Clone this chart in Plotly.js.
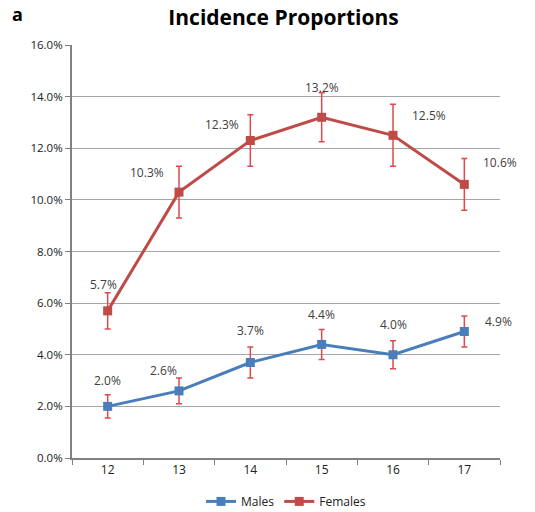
<!DOCTYPE html>
<html><head><meta charset="utf-8">
<script src="https://cdn.plot.ly/plotly-3.0.1.min.js"></script>
<style>html,body{margin:0;padding:0;background:#fff}#chart{width:535px;height:512px}</style>
</head><body><div id="chart"></div>
<script>
const ages = ['12','13','14','15','16','17'];
const males = [2.0, 2.6, 3.7, 4.4, 4.0, 4.9];
const malesErr = [0.45, 0.5, 0.6, 0.58, 0.54, 0.6];
const females = [5.7, 10.3, 12.3, 13.2, 12.5, 10.6];
const femalesErr = [0.7, 1.0, 1.0, 0.95, 1.2, 1.0];
const yTicks = [0, 2, 4, 6, 8, 10, 12, 14, 16];

// label offsets (style only)
const maleLabelShift = [[0,26],[-16,20],[0,32],[0,30],[0,30],[34,10]];
const femaleLabelShift = [[-4,26],[-32,20],[-28,16],[0,30],[36,20],[36,22]];

const blue = '#4a7ebb', red = '#be4b48', errCol = '#e0494e';
const font = 'Open Sans, Lato, sans-serif';

function trace(name, y, err, color) {
  return {
    type: 'scatter', mode: 'lines+markers', name: name, x: ages, y: y,
    line: {color: color, width: 3},
    marker: {symbol: 'square', size: 9, color: color},
    error_y: {type: 'data', array: err, visible: true, color: errCol, thickness: 1.5, width: 3}
  };
}

const annotations = [];
function addLabels(y, shifts) {
  y.forEach((v, i) => annotations.push({
    x: i, y: v, xref: 'x', yref: 'y', text: v.toFixed(1) + '%',
    showarrow: false, xshift: shifts[i][0], yshift: shifts[i][1],
    font: {family: font, size: 12, color: '#404040'}
  }));
}
addLabels(males, maleLabelShift);
addLabels(females, femaleLabelShift);
annotations.push({
  text: '<b>a</b>', xref: 'paper', yref: 'paper', x: -0.145, y: 1.11,
  xanchor: 'left', yanchor: 'top', showarrow: false,
  font: {family: font, size: 18, color: '#000'}
});

const layout = {
  width: 535, height: 512,
  margin: {l: 72, r: 35, t: 45, b: 54, autoexpand: false},
  paper_bgcolor: '#fff', plot_bgcolor: '#fff',
  title: {text: '<b>Incidence Proportions</b>', x: 0.53, xanchor: 'center', y: 0.98, yanchor: 'top',
          font: {family: font, size: 21, color: '#000'}},
  xaxis: {
    type: 'category', range: [-0.5, 5.5], autorange: false,
    tickson: 'boundaries', ticks: 'outside', ticklen: 5, tickcolor: '#808080', tickangle: 0,
    showline: true, linecolor: '#808080', linewidth: 2, showgrid: false,
    tickfont: {family: font, size: 12, color: '#202020'}
  },
  yaxis: {
    range: [0, 16], autorange: false, tickvals: yTicks, ticktext: yTicks.map(v => v.toFixed(1) + '%'),
    ticks: 'outside', ticklen: 5, tickcolor: '#808080',
    showline: true, linecolor: '#808080', linewidth: 2,
    showgrid: true, gridcolor: '#a6a6a6', gridwidth: 1, zeroline: false,
    tickfont: {family: font, size: 11.5, color: '#202020'}
  },
  legend: {orientation: 'h', x: 0.5, xanchor: 'center', y: -0.07, yanchor: 'top',
           font: {family: font, size: 12, color: '#202020'}},
  annotations: annotations,
  showlegend: true
};

Plotly.newPlot('chart', [trace('Males', males, malesErr, blue), trace('Females', females, femalesErr, red)], layout,
  {displayModeBar: false, staticPlot: true});
</script></body></html>
